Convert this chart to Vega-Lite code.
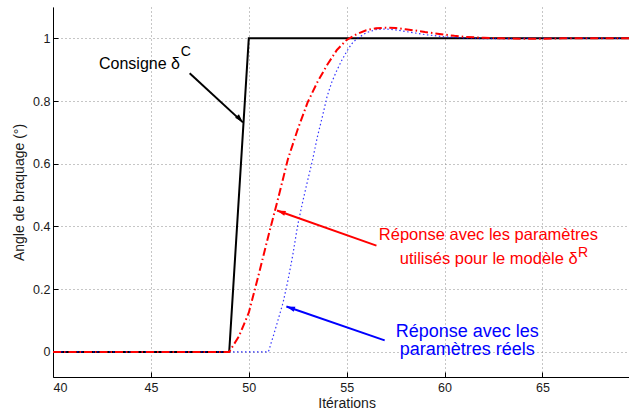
{
  "$schema": "https://vega.github.io/schema/vega-lite/v6.json",
  "width": 576,
  "height": 370,
  "autosize": {"type": "none"},
  "padding": {"left": 53, "top": 7, "right": 0, "bottom": 35},
  "background": "white",
  "config": {
    "view": {"stroke": null},
    "font": "Liberation Sans",
    "axis": {
      "grid": true,
      "gridDash": [1, 3],
      "gridColor": "#8c8c8c",
      "gridWidth": 1,
      "domainColor": "#000000",
      "domainWidth": 1,
      "tickColor": "#000000",
      "tickSize": -5,
      "labelFont": "Liberation Sans",
      "labelFontSize": 12.5,
      "labelColor": "#1a1a1a",
      "titleFont": "Liberation Sans",
      "titleFontSize": 14,
      "titleFontWeight": "normal",
      "titleColor": "#1a1a1a"
    }
  },
  "datasets": {
    "curves": [
      {"who": "consigne", "x": 40, "y": 0},
      {"who": "consigne", "x": 49, "y": 0},
      {"who": "consigne", "x": 50, "y": 1},
      {"who": "consigne", "x": 70, "y": 1},
      {"who": "modele", "x": 40, "y": 0},
      {"who": "modele", "x": 49, "y": 0},
      {"who": "modele", "x": 49.5, "y": 0.05},
      {"who": "modele", "x": 50, "y": 0.125},
      {"who": "modele", "x": 50.5, "y": 0.245},
      {"who": "modele", "x": 51, "y": 0.37},
      {"who": "modele", "x": 51.5, "y": 0.49},
      {"who": "modele", "x": 52, "y": 0.615},
      {"who": "modele", "x": 52.5, "y": 0.71},
      {"who": "modele", "x": 53, "y": 0.795},
      {"who": "modele", "x": 53.5, "y": 0.86},
      {"who": "modele", "x": 54, "y": 0.915},
      {"who": "modele", "x": 54.5, "y": 0.963},
      {"who": "modele", "x": 55, "y": 0.995},
      {"who": "modele", "x": 55.5, "y": 1.013},
      {"who": "modele", "x": 56, "y": 1.026},
      {"who": "modele", "x": 56.5, "y": 1.032},
      {"who": "modele", "x": 57, "y": 1.034},
      {"who": "modele", "x": 57.5, "y": 1.033},
      {"who": "modele", "x": 58, "y": 1.029},
      {"who": "modele", "x": 58.5, "y": 1.025},
      {"who": "modele", "x": 59, "y": 1.02},
      {"who": "modele", "x": 59.5, "y": 1.016},
      {"who": "modele", "x": 60, "y": 1.012},
      {"who": "modele", "x": 60.5, "y": 1.008},
      {"who": "modele", "x": 61, "y": 1.005},
      {"who": "modele", "x": 62, "y": 1.002},
      {"who": "modele", "x": 63, "y": 1.0},
      {"who": "modele", "x": 64, "y": 0.999},
      {"who": "modele", "x": 65, "y": 0.999},
      {"who": "modele", "x": 66, "y": 1.0},
      {"who": "modele", "x": 70, "y": 1.0},
      {"who": "reel", "x": 40, "y": 0},
      {"who": "reel", "x": 51, "y": 0},
      {"who": "reel", "x": 51.25, "y": 0.05},
      {"who": "reel", "x": 51.5, "y": 0.103},
      {"who": "reel", "x": 51.75, "y": 0.157},
      {"who": "reel", "x": 52, "y": 0.228},
      {"who": "reel", "x": 52.25, "y": 0.31},
      {"who": "reel", "x": 52.5, "y": 0.405},
      {"who": "reel", "x": 52.75, "y": 0.478},
      {"who": "reel", "x": 53, "y": 0.545},
      {"who": "reel", "x": 53.25, "y": 0.61},
      {"who": "reel", "x": 53.5, "y": 0.685},
      {"who": "reel", "x": 53.75, "y": 0.748},
      {"who": "reel", "x": 54, "y": 0.815},
      {"who": "reel", "x": 54.25, "y": 0.862},
      {"who": "reel", "x": 54.5, "y": 0.898},
      {"who": "reel", "x": 54.75, "y": 0.93},
      {"who": "reel", "x": 55, "y": 0.958},
      {"who": "reel", "x": 55.25, "y": 0.982},
      {"who": "reel", "x": 55.5, "y": 0.998},
      {"who": "reel", "x": 56, "y": 1.018},
      {"who": "reel", "x": 56.5, "y": 1.028},
      {"who": "reel", "x": 57, "y": 1.03},
      {"who": "reel", "x": 57.5, "y": 1.027},
      {"who": "reel", "x": 58, "y": 1.022},
      {"who": "reel", "x": 58.5, "y": 1.017},
      {"who": "reel", "x": 59, "y": 1.012},
      {"who": "reel", "x": 60, "y": 1.005},
      {"who": "reel", "x": 61, "y": 1.001},
      {"who": "reel", "x": 62, "y": 0.999},
      {"who": "reel", "x": 63, "y": 0.999},
      {"who": "reel", "x": 64, "y": 1.0},
      {"who": "reel", "x": 70, "y": 1.0}
    ],
    "arrows": [
      {"who": "consigne", "x": 46.98, "y": 0.889, "x2": 49.7, "y2": 0.732},
      {"who": "modele", "x": 56.52, "y": 0.339, "x2": 51.44, "y2": 0.451},
      {"who": "reel", "x": 56.94, "y": 0.0367, "x2": 51.92, "y2": 0.145}
    ],
    "notes": [
      {"who": "consigne", "pos": "left", "t": "Consigne δ", "x": 42.35, "y": 0.902},
      {"who": "consigne", "pos": "sup", "t": "C", "x": 46.53, "y": 0.943},
      {"who": "modele", "pos": "center", "t": "Réponse avec les paramètres", "x": 62.24, "y": 0.3556},
      {"who": "modele", "pos": "right", "t": "utilisés pour le modèle δ", "x": 66.8, "y": 0.281},
      {"who": "modele", "pos": "sup", "t": "R", "x": 66.82, "y": 0.3026},
      {"who": "reel", "pos": "blue", "t": "Réponse avec les", "x": 61.16, "y": 0.0462},
      {"who": "reel", "pos": "blue", "t": "paramètres réels", "x": 61.16, "y": -0.011}
    ]
  },
  "encoding": {
    "x": {
      "field": "x", "type": "quantitative",
      "scale": {"domain": [40, 69.42], "nice": false, "zero": false},
      "axis": {"values": [40, 45, 50, 55, 60, 65], "title": "Itérations", "labelPadding": 9, "titlePadding": 3, "titleX": 293.6}
    },
    "y": {
      "field": "y", "type": "quantitative",
      "scale": {"domain": [-0.08, 1.1], "nice": false, "zero": false},
      "axis": {"values": [0, 0.2, 0.4, 0.6, 0.8, 1], "format": "~g", "title": "Angle de braquage (°)", "labelPadding": 8, "titlePadding": 6}
    },
    "color": {
      "field": "who", "type": "nominal",
      "scale": {"domain": ["consigne", "modele", "reel"], "range": ["#000000", "#ff0000", "#0000ff"]},
      "legend": null
    }
  },
  "layer": [
    {
      "data": {"name": "curves"},
      "transform": [{"filter": "datum.who == 'consigne'"}],
      "mark": {"type": "line", "strokeWidth": 2, "clip": true}
    },
    {
      "data": {"name": "curves"},
      "transform": [{"filter": "datum.who == 'reel'"}],
      "mark": {"type": "line", "strokeWidth": 1.2, "strokeDash": [1.5, 2.5], "opacity": 0.8, "clip": true}
    },
    {
      "data": {"name": "curves"},
      "transform": [{"filter": "datum.who == 'modele'"}],
      "mark": {"type": "line", "strokeWidth": 2, "strokeDash": [8, 3, 1.5, 3], "clip": true}
    },
    {
      "data": {"name": "arrows"},
      "mark": {"type": "rule", "strokeWidth": 2},
      "encoding": {
        "x2": {"field": "x2"},
        "y2": {"field": "y2"}
      }
    },
    {
      "data": {"name": "arrows"},
      "transform": [{"filter": "datum.who == 'consigne'"}],
      "mark": {"type": "point", "filled": true, "opacity": 1, "shape": "M0,0L-0.3,1L0.3,1Z", "size": 300, "angle": 137.2},
      "encoding": {
        "x": {"field": "x2", "type": "quantitative"},
        "y": {"field": "y2", "type": "quantitative"}
      }
    },
    {
      "data": {"name": "arrows"},
      "transform": [{"filter": "datum.who == 'modele'"}],
      "mark": {"type": "point", "filled": true, "opacity": 1, "shape": "M0,0L-0.3,1L0.3,1Z", "size": 300, "angle": 289.6},
      "encoding": {
        "x": {"field": "x2", "type": "quantitative"},
        "y": {"field": "y2", "type": "quantitative"}
      }
    },
    {
      "data": {"name": "arrows"},
      "transform": [{"filter": "datum.who == 'reel'"}],
      "mark": {"type": "point", "filled": true, "opacity": 1, "shape": "M0,0L-0.3,1L0.3,1Z", "size": 300, "angle": 289.1},
      "encoding": {
        "x": {"field": "x2", "type": "quantitative"},
        "y": {"field": "y2", "type": "quantitative"}
      }
    },
    {
      "data": {"name": "notes"},
      "transform": [{"filter": "datum.pos == 'center'"}],
      "mark": {"type": "text", "align": "center", "baseline": "alphabetic", "fontSize": 16.5, "font": "Liberation Sans"},
      "encoding": {"text": {"field": "t"}}
    },
    {
      "data": {"name": "notes"},
      "transform": [{"filter": "datum.pos == 'blue'"}],
      "mark": {"type": "text", "align": "center", "baseline": "alphabetic", "fontSize": 18, "font": "Liberation Sans"},
      "encoding": {"text": {"field": "t"}}
    },
    {
      "data": {"name": "notes"},
      "transform": [{"filter": "datum.pos == 'left'"}],
      "mark": {"type": "text", "align": "left", "baseline": "alphabetic", "fontSize": 16, "font": "Liberation Sans"},
      "encoding": {"text": {"field": "t"}}
    },
    {
      "data": {"name": "notes"},
      "transform": [{"filter": "datum.pos == 'right'"}],
      "mark": {"type": "text", "align": "right", "baseline": "alphabetic", "fontSize": 16.5, "font": "Liberation Sans"},
      "encoding": {"text": {"field": "t"}}
    },
    {
      "data": {"name": "notes"},
      "transform": [{"filter": "datum.pos == 'sup'"}],
      "mark": {"type": "text", "align": "left", "baseline": "alphabetic", "fontSize": 14, "font": "Liberation Sans"},
      "encoding": {"text": {"field": "t"}}
    }
  ]
}
